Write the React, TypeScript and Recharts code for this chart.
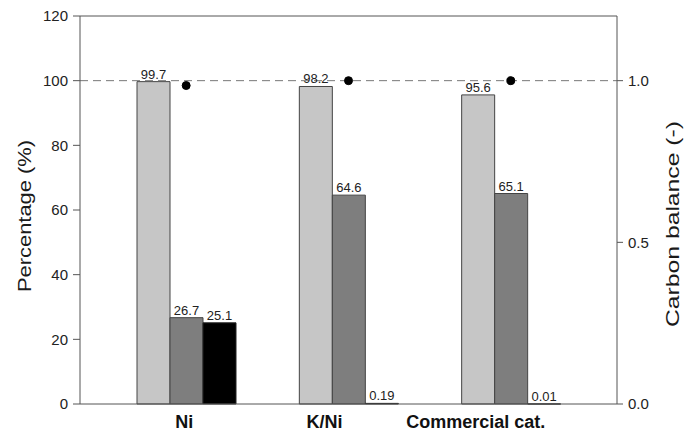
import { ComposedChart, Bar, Line, XAxis, YAxis, ReferenceLine, LabelList, Label } from 'recharts';

// catalizadores y valores
const catalysts = ['Ni', 'K/Ni', 'Commercial cat.'];
const lightSeries = [99.7, 98.2, 95.6];
const mediumSeries = [26.7, 64.6, 65.1];
const blackSeries = [25.1, 0.19, 0.01];
const carbonBalance = [0.985, 1.0, 1.0];

const leftTicks = [0, 20, 40, 60, 80, 100, 120];
const rightTicks = [0, 0.5, 1.0];

const chartData = catalysts.map((name, i) => ({
    name,
    light: lightSeries[i],
    medium: mediumSeries[i],
    black: blackSeries[i],
    carbon: carbonBalance[i],
}));

const FONT = '"Liberation Sans", Arial, sans-serif';

// en la figura original las etiquetas estan corridas a la izquierda
const tickShift = [-2, -24, -35];

const CategoryTick = (props: any) => {
    const { x, y, payload, index } = props;
    return (
        <text
            x={x + (tickShift[index] || 0)}
            y={y + 16}
            textAnchor="middle"
            fontFamily={FONT}
            fontSize={18}
            fontWeight="bold"
            fill="#111"
        >
            {payload.value}
        </text>
    );
};

// titulo vertical con largo fijo
const VerticalTitle = (props: { cx: number; cy: number; text: string; len: number }) => (
    <text
        x={props.cx}
        y={props.cy}
        transform={`rotate(-90 ${props.cx} ${props.cy})`}
        textAnchor="middle"
        dominantBaseline="central"
        fontFamily={FONT}
        fontSize={19}
        fill="#1a1a1a"
        textLength={props.len}
        lengthAdjust="spacingAndGlyphs"
    >
        {props.text}
    </text>
);

const App = () => {
    return (
        <div style={{ position: 'absolute', left: 0, top: 0 }}>
            <ComposedChart
                width={684}
                height={441}
                data={chartData}
                margin={{ top: 16, right: 0, left: 0, bottom: 0 }}
                barGap={0}
            >
                <XAxis
                    dataKey="name"
                    height={37}
                    padding={{ left: 25, right: 25 }}
                    tickLine={false}
                    axisLine={{ stroke: '#555' }}
                    tick={<CategoryTick />}
                />
                <YAxis
                    yAxisId="left"
                    width={80}
                    domain={[0, 120]}
                    ticks={leftTicks}
                    tickSize={7}
                    tickMargin={5}
                    stroke="#555"
                    tick={{ fontFamily: FONT, fontSize: 15, fill: '#222' }}
                >
                    <Label content={() => <VerticalTitle cx={24} cy={216} text="Percentage (%)" len={152} />} />
                </YAxis>
                <YAxis
                    yAxisId="right"
                    orientation="right"
                    width={67}
                    domain={[0, 1.2]}
                    ticks={rightTicks}
                    tickFormatter={(v: number) => v.toFixed(1)}
                    tickSize={6}
                    tickMargin={5}
                    stroke="#555"
                    tick={{ fontFamily: FONT, fontSize: 15, fill: '#222' }}
                >
                    <Label content={() => <VerticalTitle cx={672} cy={224} text="Carbon balance (-)" len={206} />} />
                </YAxis>
                <ReferenceLine yAxisId="left" y={120} stroke="#555" />
                <ReferenceLine yAxisId="left" y={100} stroke="#777" strokeDasharray="8 5" />
                <Bar yAxisId="left" dataKey="light" barSize={33} fill="#c6c6c6" stroke="#444" isAnimationActive={false}>
                    <LabelList dataKey="light" position="top" offset={3} fontFamily={FONT} fontSize={13} fill="#222" />
                </Bar>
                <Bar yAxisId="left" dataKey="medium" barSize={33} fill="#7e7e7e" stroke="#444" isAnimationActive={false}>
                    <LabelList dataKey="medium" position="top" offset={3} fontFamily={FONT} fontSize={13} fill="#222" />
                </Bar>
                <Bar yAxisId="left" dataKey="black" barSize={33} fill="#000" stroke="#222" isAnimationActive={false}>
                    <LabelList dataKey="black" position="top" offset={3} fontFamily={FONT} fontSize={13} fill="#222" />
                </Bar>
                <Line
                    yAxisId="right"
                    dataKey="carbon"
                    stroke="none"
                    dot={{ r: 4, fill: '#000', stroke: '#000' }}
                    activeDot={false}
                    isAnimationActive={false}
                />
            </ComposedChart>
        </div>
    );
};

export default App;
